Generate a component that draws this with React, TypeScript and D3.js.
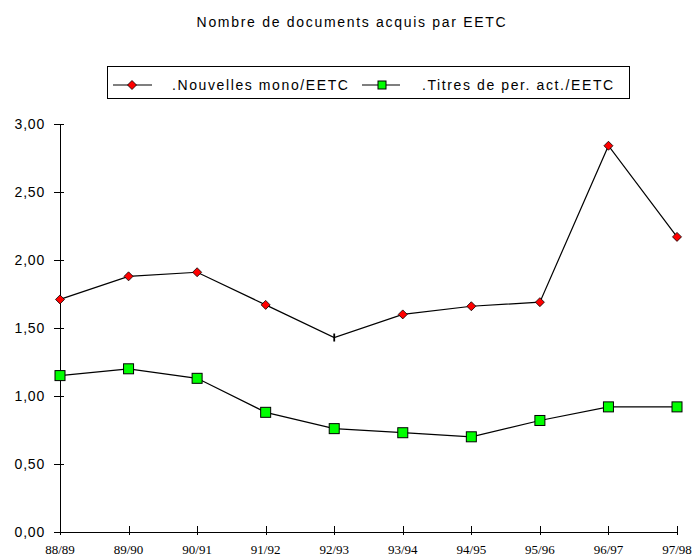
import React from 'react';
import * as d3 from 'd3';

const categories = ['88/89', '89/90', '90/91', '91/92', '92/93', '93/94', '94/95', '95/96', '96/97', '97/98'];
const monoValues = [1.71, 1.88, 1.91, 1.67, 1.43, 1.6, 1.66, 1.69, 2.84, 2.17];
const titresValues = [1.15, 1.2, 1.13, 0.88, 0.76, 0.73, 0.7, 0.82, 0.92, 0.92];
const yTicks = [0, 0.5, 1, 1.5, 2, 2.5, 3];
const seriesNames = ['.Nouvelles mono/EETC', '.Titres de per. act./EETC'];

const W = 694;
const H = 557;
const SANS = '"Liberation Sans", Arial, sans-serif';

const App = () => {
  const ref = React.useRef<SVGSVGElement>(null);

  React.useEffect(() => {
    const svg = d3.select(ref.current);
    svg.selectAll('*').remove();

    const x = d3.scalePoint<string>().domain(categories).range([60, 677]);
    const y = d3.scaleLinear().domain([0, 3]).range([532, 124]);
    const fmt = (v: number) => v.toFixed(2).replace('.', ',');

    // title
    svg.append('text')
      .attr('x', 352).attr('y', 27)
      .attr('text-anchor', 'middle')
      .style('font', `14px ${SANS}`)
      .style('letter-spacing', '1.7px')
      .text('Nombre de documents acquis par EETC');

    // axes
    const g = svg.append('g').attr('stroke', '#000').attr('stroke-width', 1);
    g.append('line').attr('x1', 60.5).attr('x2', 60.5).attr('y1', y(3)).attr('y2', y(0));
    g.append('line').attr('x1', 60).attr('x2', 677).attr('y1', y(0) + 0.5).attr('y2', y(0) + 0.5);
    g.selectAll('.yt').data(yTicks).join('line')
      .attr('x1', 54).attr('x2', 64).attr('y1', d => Math.round(y(d)) + 0.5).attr('y2', d => Math.round(y(d)) + 0.5);
    g.selectAll('.xt').data(categories).join('line')
      .attr('x1', d => Math.round(x(d)!) + 0.5).attr('x2', d => Math.round(x(d)!) + 0.5)
      .attr('y1', y(0) - 6).attr('y2', y(0) + 3);

    svg.append('g').selectAll('text').data(yTicks).join('text')
      .attr('x', 45).attr('y', d => y(d) + 5)
      .attr('text-anchor', 'end')
      .style('font', `14px ${SANS}`)
      .style('letter-spacing', '0.8px')
      .text(d => fmt(d));

    svg.append('g').selectAll('text').data(categories).join('text')
      .attr('x', d => x(d)!).attr('y', 554)
      .attr('text-anchor', 'middle')
      .style('font', '13px "Liberation Serif", "Times New Roman", serif')
      .text(d => d);

    const line = d3.line<number>().x((_, i) => x(categories[i])!).y(d => y(d));

    svg.append('path').datum(monoValues).attr('d', line)
      .attr('fill', 'none').attr('stroke', '#000').attr('stroke-width', 1.2);
    svg.append('path').datum(titresValues).attr('d', line)
      .attr('fill', 'none').attr('stroke', '#000').attr('stroke-width', 1.2);

    const diamond = (cx: number, cy: number) =>
      `M${cx},${cy - 4.5}L${cx + 4.5},${cy}L${cx},${cy + 4.5}L${cx - 4.5},${cy}Z`;

    // mono markers (92/93 shown as a tick in the original)
    svg.append('g').selectAll('path').data(monoValues).join('path')
      .attr('d', (d, i) => i === 4
        ? `M${x(categories[i])},${y(d) - 4}V${y(d) + 4}`
        : diamond(x(categories[i])!, y(d)))
      .attr('fill', (_, i) => i === 4 ? 'none' : '#ff0000')
      .attr('stroke', '#000').attr('stroke-width', (_, i) => i === 4 ? 1.8 : 0.8);

    svg.append('g').selectAll('rect').data(titresValues).join('rect')
      .attr('x', (_, i) => x(categories[i])! - 5).attr('y', d => y(d) - 5)
      .attr('width', 10).attr('height', 10)
      .attr('fill', '#00ff00').attr('stroke', '#000').attr('stroke-width', 1);

    // legend
    const lg = svg.append('g');
    lg.append('rect').attr('x', 107.5).attr('y', 66.5).attr('width', 522).attr('height', 32)
      .attr('fill', '#fff').attr('stroke', '#000');
    lg.append('line').attr('x1', 113).attr('x2', 152).attr('y1', 85).attr('y2', 85).attr('stroke', '#000').attr('stroke-width', 1.2);
    lg.append('path').attr('d', diamond(132, 85)).attr('fill', '#ff0000').attr('stroke', '#000').attr('stroke-width', 0.8);
    lg.append('line').attr('x1', 362).attr('x2', 400).attr('y1', 85).attr('y2', 85).attr('stroke', '#000').attr('stroke-width', 1.2);
    lg.append('rect').attr('x', 378).attr('y', 81).attr('width', 8).attr('height', 8)
      .attr('fill', '#00ff00').attr('stroke', '#000');
    lg.selectAll('text').data(seriesNames).join('text')
      .attr('x', (_, i) => i === 0 ? 172 : 422).attr('y', 90)
      .style('font', `14px ${SANS}`)
      .style('letter-spacing', '1.6px')
      .text(d => d);
  }, []);

  return (
    <svg ref={ref} width={W} height={H}
      style={{ display: 'block', position: 'absolute', left: 0, top: 0, background: '#fff' }} />
  );
};

export default App;
